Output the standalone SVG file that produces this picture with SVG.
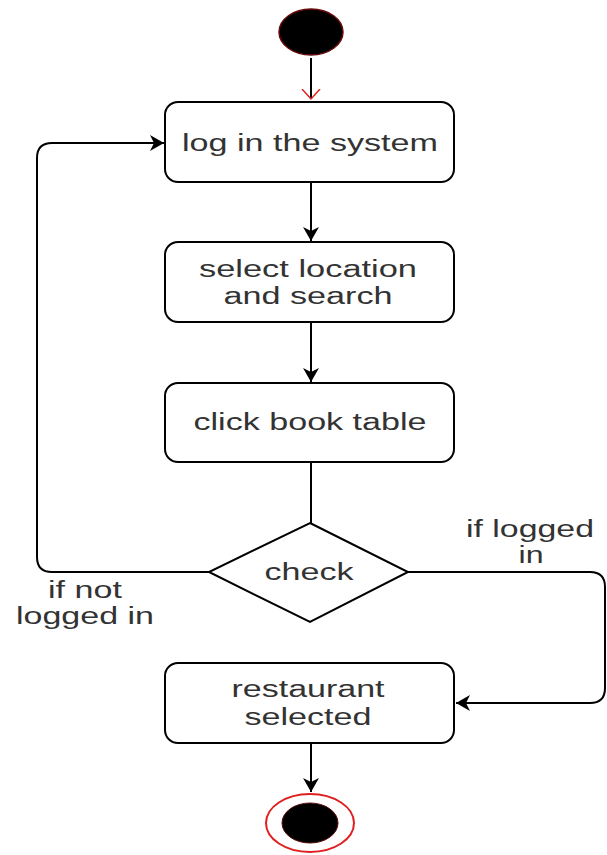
<svg xmlns="http://www.w3.org/2000/svg" width="607" height="855" viewBox="0 0 607 855">
<style>
.box{fill:#fff;stroke:#000;stroke-width:2}
.edge{fill:none;stroke:#000;stroke-width:2}
.t{font-family:"Liberation Sans",Arial,sans-serif;font-size:23px;fill:#333;text-anchor:middle}
</style>
<defs>
<marker id="ah" markerWidth="16" markerHeight="18" refX="14" refY="9" orient="auto" markerUnits="userSpaceOnUse">
<path d="M0,1 L14,9 L0,17 L4,9 Z" fill="#000"/>
</marker>
<marker id="open" markerWidth="20" markerHeight="22" refX="10" refY="11" orient="auto" markerUnits="userSpaceOnUse">
<path d="M0,2 L10,11 L0,20" fill="none" stroke="#e02020" stroke-width="1.5"/>
</marker>
</defs>
<rect width="607" height="855" fill="#fff"/>
<g id="connectors">
<path class="edge" d="M311,58 L311,99" stroke="#5a1010" stroke-width="1.5" marker-end="url(#open)"/>
<path class="edge" d="M311,182 L311,241" marker-end="url(#ah)"/>
<path class="edge" d="M311,322 L311,382" marker-end="url(#ah)"/>
<path class="edge" d="M311,462 L311,523"/>
<path class="edge" d="M209,572 L52,572 Q37,572 37,557 L37,158 Q37,143 52,143 L164,143" marker-end="url(#ah)"/>
<path class="edge" d="M408,572 L590,572 Q605,572 605,587 L605,688 Q605,703 590,703 L456,703" marker-end="url(#ah)"/>
<path class="edge" d="M311,743 L311,792" marker-end="url(#ah)"/>
</g>
<g id="start">
<ellipse cx="311" cy="32" rx="32" ry="23" fill="#000" stroke="#6a0a0a" stroke-width="1.5"/>
</g>
<g id="login">
<rect class="box" x="165" y="102" width="289" height="80" rx="13"/>
<text class="t" x="310" y="151" textLength="256" lengthAdjust="spacingAndGlyphs">log in the system</text>
</g>
<g id="select">
<rect class="box" x="165" y="242" width="289" height="80" rx="13"/>
<text class="t" x="308" y="277" textLength="218" lengthAdjust="spacingAndGlyphs">select location</text>
<text class="t" x="308" y="304" textLength="169" lengthAdjust="spacingAndGlyphs">and search</text>
</g>
<g id="book">
<rect class="box" x="165" y="383" width="289" height="79" rx="13"/>
<text class="t" x="310" y="430" textLength="233" lengthAdjust="spacingAndGlyphs">click book table</text>
</g>
<g id="check">
<polygon class="box" points="310,523 408,572 310,622 209,572"/>
<text class="t" x="309" y="580" textLength="89" lengthAdjust="spacingAndGlyphs">check</text>
</g>
<g id="labels">
<text class="t" x="85" y="598" textLength="74" lengthAdjust="spacingAndGlyphs">if not</text>
<text class="t" x="85" y="624" textLength="138" lengthAdjust="spacingAndGlyphs">logged in</text>
<text class="t" x="530" y="537" textLength="128" lengthAdjust="spacingAndGlyphs">if logged</text>
<text class="t" x="531" y="563" textLength="25" lengthAdjust="spacingAndGlyphs">in</text>
</g>
<g id="restaurant">
<rect class="box" x="165" y="663" width="289" height="80" rx="13"/>
<text class="t" x="308" y="697" textLength="153" lengthAdjust="spacingAndGlyphs">restaurant</text>
<text class="t" x="308" y="725" textLength="127" lengthAdjust="spacingAndGlyphs">selected</text>
</g>
<g id="end">
<ellipse cx="310" cy="823" rx="44" ry="29" fill="#fff" stroke="#e02020" stroke-width="2"/>
<ellipse cx="310" cy="823" rx="28" ry="20" fill="#000" stroke="#5a0a0a" stroke-width="1"/>
</g>
</svg>
